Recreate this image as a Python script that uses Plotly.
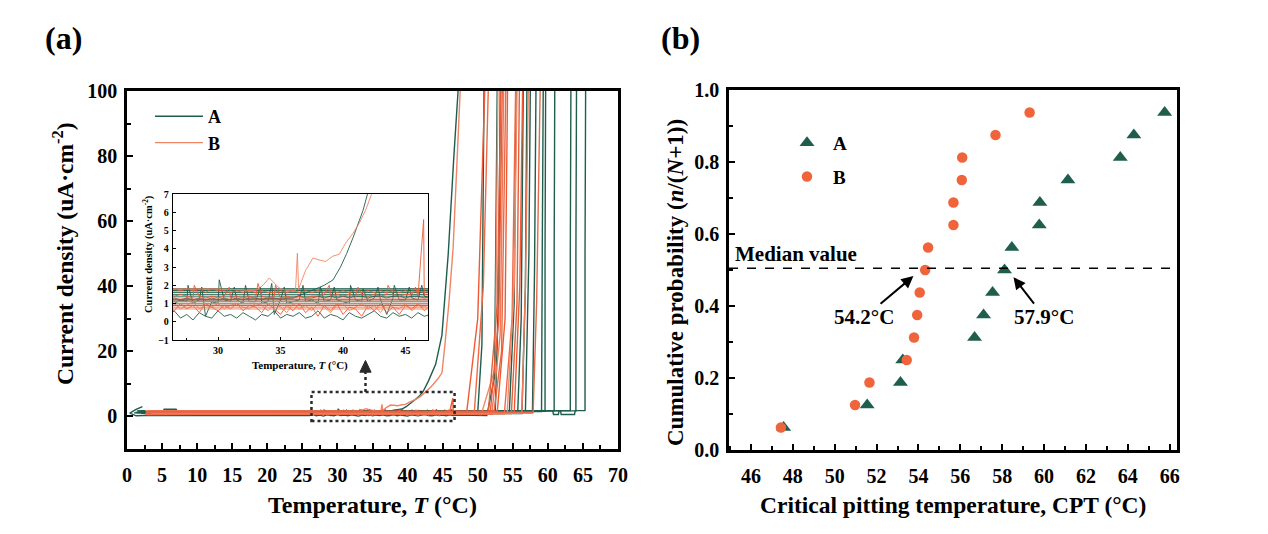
import plotly.graph_objects as go

FONT = "Liberation Serif"
W, H = 1268, 534

# ======================= panel (b) data =======================
PROB = [0.0625, 0.125, 0.1875, 0.25, 0.3125, 0.375, 0.4375, 0.5,
        0.5625, 0.625, 0.6875, 0.75, 0.8125, 0.875, 0.9375]
CPT_A = [47.56, 51.55, 53.14, 53.25, 56.68, 57.11, 57.54, 58.11,
         58.46, 59.77, 59.80, 61.14, 63.64, 64.29, 65.76]
CPT_B = [47.43, 50.97, 51.66, 53.44, 53.79, 53.94, 54.06, 54.32,
         54.46, 55.67, 55.67, 56.07, 56.09, 57.68, 59.31]
MEDIAN_Y = 0.505
MED_B_TEXT = "54.2°C"
MED_A_TEXT = "57.9°C"

# ======================= panel (a) data =======================
# noisy passive currents read in the inset (every 0.5 °C from 26 to 47 °C)
NOISE_T = [26.0, 26.5, 27.0, 27.5, 28.0, 28.5, 29.0, 29.5, 30.0, 30.5,
           31.0, 31.5, 32.0, 32.5, 33.0, 33.5, 34.0, 34.5, 35.0, 35.5,
           36.0, 36.5, 37.0, 37.5, 38.0, 38.5, 39.0, 39.5, 40.0, 40.5,
           41.0, 41.5, 42.0, 42.5, 43.0, 43.5, 44.0, 44.5, 45.0, 45.5,
           46.0, 46.5, 47.0]
NOISE_A_LOW = [0.3, 0.6, 0.2, 0.4, 0.1, 0.5, 0.3, 0.2, 0.6, 0.3,
               0.4, 0.2, 0.5, 0.3, 0.1, 0.4, 0.3, 0.6, 0.2, 0.4,
               0.3, 0.5, 0.2, 0.3, 0.6, 0.2, 0.4, 0.3, 0.1, 0.5,
               0.3, 0.2, 0.4, 0.6, 0.3, 0.2, 0.5, 0.3, 0.4, 0.2,
               0.5, 0.3, 0.4]
NOISE_A_MID = [1.1, 1.0, 1.2, 1.1, 1.0, 1.2, 0.3, 1.1, 1.0, 1.2,
               1.1, 1.2, 1.0, 1.1, 1.1, 1.0, 1.1, 0.4, 1.2, 1.0,
               1.1, 1.2, 1.1, 1.2, 1.0, 1.1, 1.2, 1.2, 1.1, 1.0,
               1.2, 1.1, 1.1, 1.3, 1.2, 0.4, 1.3, 1.2, 1.2, 1.3,
               1.2, 1.4, 1.3]
NOISE_A_HIGH = [1.2, 1.3, 1.2, 1.3, 1.2, 1.3, 1.2, 1.3, 1.2, 1.3,
                1.2, 1.3, 1.2, 1.3, 1.3, 1.2, 1.3, 1.3, 1.2, 1.3,
                1.3, 1.4, 1.3, 1.3, 1.4, 1.3, 1.4, 1.3, 1.4, 1.3,
                1.4, 1.4, 1.3, 1.4, 1.4, 1.3, 1.4, 1.4, 1.3, 1.4,
                1.4, 1.3, 1.4]
NOISE_B_DENSE1 = [0.9, 0.6, 1.0, 0.7, 0.9, 0.5, 1.0, 0.8, 0.6, 0.9,
                  0.7, 1.0, 0.6, 0.9, 0.8, 0.5, 1.0, 0.7, 0.4, 0.9,
                  0.6, 1.0, 0.5, 0.8, 0.3, 0.9, 0.6, 1.0, 0.4, 0.8,
                  0.7, 0.3, 0.9, 0.6, 1.0, 0.5, 0.8, 0.4, 0.9, 0.7,
                  1.0, 0.6, 0.9]
NOISE_B_DENSE2 = [0.8, 1.0, 0.7, 0.9, 1.1, 0.7, 0.9, 0.8, 1.0, 0.7,
                  0.9, 1.0, 0.8, 0.7, 1.0, 0.9, 0.6, 1.0, 0.8, 0.5,
                  1.0, 0.7, 0.9, 0.6, 1.0, 0.8, 0.5, 0.9, 1.0, 0.6,
                  0.8, 1.0, 0.7, 0.9, 0.5, 1.0, 0.8, 0.7, 1.0, 0.6,
                  0.9, 0.8, 1.0]
NOISE_B_LINE13 = [1.5, 1.4, 1.5, 1.4, 1.3, 1.4, 1.3, 1.4, 1.3, 1.4,
                  1.3, 1.4, 1.3, 1.4, 1.3, 1.4, 1.3, 1.4, 1.3, 1.4,
                  1.3, 1.4, 1.3, 1.4, 1.4, 1.5, 1.4, 1.5, 1.4, 1.5,
                  1.4, 1.5, 1.4, 1.5, 1.4, 1.5, 1.5, 1.4, 1.5, 1.5,
                  1.4, 1.5, 1.5]
NOISE_B_LINE16 = [1.8, 1.8, 1.7, 1.8, 1.7, 1.8, 1.6, 1.8, 1.7, 1.7,
                  1.6, 1.7, 1.6, 1.7, 1.6, 1.7, 1.6, 1.6, 1.7, 1.6,
                  1.7, 1.6, 1.7, 1.6, 1.7, 1.6, 1.7, 1.6, 1.7, 1.6,
                  1.7, 1.6, 1.7, 1.6, 1.7, 1.6, 1.7, 1.6, 1.7, 1.6,
                  1.7, 1.6, 1.7]
# isolated current spikes seen in the inset
SPIKE_A_T = [27.6, 28.7, 30.1, 31.3, 32.2, 33.4, 34.3, 35.3, 36.8,
             38.2, 39.3, 40.6, 41.6, 42.8, 44.1, 45.3, 46.3]
SPIKE_A_I = [2.0, 1.9, 2.3, 1.9, 2.0, 1.9, 2.1, 1.9, 2.0,
             1.9, 1.9, 2.0, 1.8, 1.9, 2.0, 1.9, 2.0]
SPIKE_B_T = [28.1, 30.9, 33.2, 34.6, 38.9, 41.2, 43.6, 45.8, 46.45]
SPIKE_B_I = [2.0, 1.9, 2.1, 2.0, 2.0, 1.9, 2.0, 1.9, 5.6]

# specimens A (regular curves)
A_START = [1.0, 2.4, 1.5, 2.0, 1.2, 2.5, 1.8, 3.0, 2.2, 1.6, 2.8, 2.0, 1.4, 2.6]
A_LEVEL = [1.1, 0.3, 1.3, 1.0, 1.2, 0.9, 1.4, 1.1, 1.5, 1.6, 1.7, 1.8, 1.7, 1.8]
A_ONSET = [50.0, 51.3, 52.5, 54.5, 55.7, 56.3, 56.8, 57.8, 59.1, 59.6, 60.9, 63.2, 64.0, 65.3]
A_MID_T = [50.6, 52.4, 53.0, 55.2, 56.2, 56.8, 57.3, 58.1, 59.2, 59.6, 60.9, 63.2, 64.0, 65.3]
A_MID_I = [22, 12, 40, 35, 30, 40, 50, 45, 50, 50, 50, 50, 50, 50]
A_TOP = [50.9, 52.8, 53.2, 55.5, 56.5, 57.0, 57.5, 58.3, 59.3, 59.6, 60.9, 63.2, 64.0, 65.3]
A_NOISE = ["mid", "low", "high", None, None, None, None, None, None, None, None, None, None, None]
# specimen A with early breakdown
A_EARLY_T = [1.5, 10, 20, 26, 30, 36.0, 36.8, 37.6, 38.5, 39.2, 39.8, 40.3, 40.8,
             41.1, 41.6, 42.2, 43.0, 44.0, 44.9, 45.8, 46.6, 47.2, 47.4]
A_EARLY_I = [1.2, 1.2, 1.2, 1.2, 1.2, 1.3, 1.5, 1.74, 2.0, 2.29, 3.0, 3.75, 4.6,
             5.2, 6.1, 7.6, 11, 16, 25, 50, 80, 100, 140]
A_START_HOOK_T = [2.2, 1.3, 0.4, 1.3]
A_START_HOOK_I = [3.0, 2.2, 1.0, 0.2]
A_BUMP_T = [5.0, 5.3, 7.0, 7.3]
A_BUMP_I = [1.1, 2.2, 2.2, 1.1]
A_DIP_T = [60.7, 60.8, 61.5, 61.6, 61.8, 61.9, 63.8, 63.9]
A_DIP_I = [1.8, 0.6, 0.6, 1.8, 1.8, 0.6, 0.6, 1.8]

# specimens B (regular curves)
B_START = [2.6, 3.0, 2.8, 3.2, 2.7, 3.5, 2.9, 3.1, 2.6, 3.3, 2.8, 3.0, 3.4, 2.7]
B_LEVEL = [0.8, 1.0, 0.6, 0.9, 1.4, 0.7, 1.0, 1.6, 0.8, 1.1, 0.9, 1.2, 1.0, 1.3]
B_ONSET = [48.4, 49.5, 50.5, 51.5, 51.8, 52.0, 52.3, 52.8, 53.8, 54.2, 54.8, 55.2, 56.3, 57.9]
B_MID_T = [50.0, 50.8, 52.5, 52.8, 53.0, 53.2, 53.4, 53.9, 54.9, 55.2, 55.6, 56.0, 56.8, 58.4]
B_MID_I = [30, 40, 15, 35, 30, 25, 20, 30, 30, 40, 35, 40, 40, 35]
B_TOP = [51.0, 51.5, 52.9, 53.3, 53.5, 53.7, 54.0, 54.3, 55.4, 55.6, 56.0, 56.4, 57.2, 58.9]
B_NOISE = ["dense1", None, "dense2", None, "line13", None, None, "line16", None, None, None, None, None, None]
# specimen B with early breakdown
B_EARLY_T = [2.6, 10, 20, 26, 30, 33.0, 33.6, 34.1, 34.5, 34.9, 35.5, 36.2, 36.35, 36.45,
             37.0, 37.6, 38.0, 38.6, 39.2, 39.7, 40.2, 40.8, 41.3, 41.8, 42.4, 43.3,
             44.3, 44.9, 45.3, 45.9, 46.5, 47.5, 47.7]
B_EARLY_I = [1.8, 1.8, 1.8, 1.8, 1.8, 1.7, 2.0, 2.4, 2.1, 1.85, 1.7, 1.7, 3.75, 1.8,
             2.8, 3.5, 3.4, 3.3, 3.6, 3.7, 4.3, 4.85, 5.4, 6.1, 7.2, 9.0,
             11.5, 13.4, 21.5, 35, 52, 100, 140]

NOISES = {"low": NOISE_A_LOW, "mid": NOISE_A_MID, "high": NOISE_A_HIGH,
          "dense1": NOISE_B_DENSE1, "dense2": NOISE_B_DENSE2,
          "line13": NOISE_B_LINE13, "line16": NOISE_B_LINE16}

A_COLOR = "#1f5d4c"
B_COLORS = ["#ef5a34", "#ee6a46", "#f08a6c", "#e2603c", "#ef5a34", "#f07a58", "#e66a4a"]
A_MARK = "#1f5d4c"
B_MARK = "#f0643c"


def build_curve(start, level, onset, mid_t, mid_i, top, noise=None, extras=(), hook=None):
    body = [(start, level), (10.0, level), (20.0, level)]
    if noise is None:
        body += [(26.0, level), (47.0, level)]
    else:
        body += list(zip(NOISE_T, NOISES[noise]))
    for ex_t, ex_i in extras:
        body += list(zip(ex_t, ex_i))
    body = sorted(p for p in body if p[0] < onset)
    pts = []
    if hook is not None:
        pts += list(zip(*hook))
    pts += body
    pts += [(onset, level), (mid_t, mid_i), (top, 100.0), (top + 0.15, 140.0)]
    return [p[0] for p in pts], [p[1] for p in pts]


curves = []  # (T, I, color, group)
curves.append((A_EARLY_T, A_EARLY_I, A_COLOR, "A"))
for k in range(len(A_START)):
    extras = []
    hook = None
    if k == 0:
        extras = [(SPIKE_A_T, SPIKE_A_I), (A_BUMP_T, A_BUMP_I)]
    if k == 1:
        hook = (A_START_HOOK_T, A_START_HOOK_I)
    if k == len(A_START) - 1:
        extras = [(A_DIP_T, A_DIP_I)]
    t, i = build_curve(A_START[k], A_LEVEL[k], A_ONSET[k], A_MID_T[k], A_MID_I[k], A_TOP[k],
                       A_NOISE[k], extras, hook)
    curves.append((t, i, A_COLOR, "A"))
curves.append((B_EARLY_T, B_EARLY_I, "#f08565", "B"))
for k in range(len(B_START)):
    extras = []
    if k == 4:
        extras = [(SPIKE_B_T, SPIKE_B_I)]
    t, i = build_curve(B_START[k], B_LEVEL[k], B_ONSET[k], B_MID_T[k], B_MID_I[k], B_TOP[k],
                       B_NOISE[k], extras)
    curves.append((t, i, B_COLORS[k % len(B_COLORS)], "B"))

fig = go.Figure()
shown = set()
for t, i, col, grp in curves:
    show = grp not in shown
    shown.add(grp)
    fig.add_trace(go.Scatter(x=t, y=i, mode="lines", line=dict(color=col, width=1.4),
                             name=grp, legendgroup="main" + grp, showlegend=show, legend="legend",
                             xaxis="x", yaxis="y", hoverinfo="skip"))
for t, i, col, grp in curves:
    fig.add_trace(go.Scatter(x=t, y=i, mode="lines", line=dict(color=col, width=0.9),
                             showlegend=False, xaxis="x3", yaxis="y3", hoverinfo="skip"))

# panel (b) markers
fig.add_trace(go.Scatter(x=CPT_A, y=PROB, mode="markers", name="A", legend="legend2",
                         legendgroup="pa",
                         marker=dict(symbol="triangle-up", size=13, color=A_MARK),
                         xaxis="x2", yaxis="y2"))
fig.add_trace(go.Scatter(x=CPT_B, y=PROB, mode="markers", name="B", legend="legend2",
                         legendgroup="pb",
                         marker=dict(symbol="circle", size=10.5, color=B_MARK),
                         xaxis="x2", yaxis="y2"))


def ax_style(**kw):
    d = dict(showline=True, linecolor="black", linewidth=2.5, mirror=True,
             ticks="inside", ticklen=6, tickwidth=2, tickcolor="black",
             showgrid=False, zeroline=False, automargin=False,
             tickfont=dict(family=FONT, size=20, color="black", weight="bold"))
    d.update(kw)
    return d


minor_a_x = dict(dtick=2.5, ticks="inside", ticklen=4, tickwidth=1.5, tickcolor="black", showgrid=False)
minor_a_y = dict(dtick=10, ticks="inside", ticklen=4, tickwidth=1.5, tickcolor="black", showgrid=False)
minor_b_x = dict(dtick=1, ticks="inside", ticklen=4, tickwidth=1.5, tickcolor="black", showgrid=False)
minor_b_y = dict(dtick=0.1, ticks="inside", ticklen=4, tickwidth=1.5, tickcolor="black", showgrid=False)
inset_font = dict(family=FONT, size=10, color="black", weight="bold")

fig.update_layout(
    template="none",
    width=W, height=H, margin=dict(l=0, r=0, t=0, b=0, pad=0, autoexpand=False),
    paper_bgcolor="white", plot_bgcolor="white",
    xaxis=ax_style(domain=[127 / W, 618 / W], range=[0, 70], tick0=0, dtick=5,
                   anchor="y", minor=minor_a_x, ticklabelstandoff=6),
    yaxis=ax_style(domain=[1 - 449 / H, 1 - 91 / H], range=[-10, 100], tick0=0, dtick=20,
                   anchor="x", minor=minor_a_y, ticklabelstandoff=3),
    xaxis2=ax_style(domain=[729 / W, 1177 / W], range=[44.95, 66.35], tick0=46, dtick=2,
                    anchor="y2", minor=minor_b_x, ticklabelstandoff=6),
    yaxis2=ax_style(domain=[1 - 450 / H, 1 - 90 / H], range=[0, 1.0], tick0=0, dtick=0.2,
                    tickformat=".1f", anchor="x2", minor=minor_b_y, ticklabelstandoff=3),
    xaxis3=ax_style(domain=[173 / W, 428 / W], range=[26.4, 46.8], tick0=30, dtick=5,
                    anchor="y3", linewidth=1.3, ticklen=3, tickwidth=1, tickfont=inset_font,
                    minor=dict(dtick=2.5, ticks="inside", ticklen=2, tickwidth=1, tickcolor="black"),
                    ticklabelstandoff=1),
    yaxis3=ax_style(domain=[1 - 340 / H, 1 - 194 / H], range=[-1, 7], tick0=-1, dtick=1,
                    anchor="x3", linewidth=1.3, ticklen=3, tickwidth=1, tickfont=inset_font,
                    ticklabelstandoff=1),
    legend=dict(x=150 / W, y=1 - 98 / H, xanchor="left", yanchor="top",
                bgcolor="rgba(0,0,0,0)", tracegroupgap=0, itemwidth=48,
                font=dict(family=FONT, size=18, color="black", weight="bold")),
    legend2=dict(x=781 / W, y=1 - 124 / H, xanchor="left", yanchor="top",
                 bgcolor="rgba(0,0,0,0)", tracegroupgap=6, itemwidth=42,
                 font=dict(family=FONT, size=19, color="black", weight="bold")),
)

# dotted zoom box and arrow on panel (a)
fig.add_shape(type="rect", xref="x", yref="y", x0=26.3, x1=46.7, y0=-1.4, y1=7.5,
              line=dict(color="#2a2a2a", width=2.5, dash="dot"))
fig.add_shape(type="line", xref="x", yref="y", x0=34.0, x1=34.0, y0=7.5, y1=13.8,
              line=dict(color="#2a2a2a", width=2.5, dash="dot"))
fig.add_shape(type="path", xref="x", yref="y", path="M 33.2,13.6 L 34.8,13.6 L 34.0,17.2 Z",
              fillcolor="#2a2a2a", line=dict(color="#2a2a2a", width=1))

# median line panel (b)
fig.add_shape(type="line", xref="x2 domain", yref="y2", x0=0, x1=1, y0=MEDIAN_Y, y1=MEDIAN_Y,
              line=dict(color="black", width=1.5, dash="dash"))


def txt(text, x, y, size, angle=0, xanchor="center", yanchor="middle", xref="paper", yref="paper"):
    fig.add_annotation(text=text, x=x, y=y, xref=xref, yref=yref, showarrow=False,
                       textangle=angle, xanchor=xanchor, yanchor=yanchor,
                       font=dict(family=FONT, size=size, color="black", weight="bold"))


txt("(a)", 63 / W, 1 - 38 / H, 32)
txt("(b)", 680 / W, 1 - 38 / H, 32)
txt("Temperature, <i>T</i> (°C)", 372.5 / W, 1 - 505 / H, 24)
txt("Current density (uA·cm<sup>-2</sup>)", 63 / W, 1 - 254 / H, 23.5, angle=-90)
txt("Critical pitting temperature, CPT (°C)", 953 / W, 1 - 505 / H, 23.5)
txt("Cumulative probability (<i>n</i>/(<i>N</i>+1))", 675 / W, 1 - 283 / H, 23, angle=-90)
txt("Temperature, <i>T</i> (°C)", 300 / W, 1 - 365 / H, 11)
txt("Current density (uA·cm<sup>-2</sup>)", 148 / W, 1 - 254 / H, 10.5, angle=-90)
txt("Median value", 733 / W, MEDIAN_Y, 21, xanchor="left", yanchor="bottom", yref="y2")

# median labels with arrows pointing at the median crossing
for label, hx, hy, tx, ty in [(MED_B_TEXT, 53.76, 0.483, 51.42, 0.369),
                              (MED_A_TEXT, 58.54, 0.480, 60.02, 0.369)]:
    fig.add_annotation(text=label, x=hx, y=hy, ax=tx, ay=ty, xref="x2", yref="y2",
                       axref="x2", ayref="y2", showarrow=True, arrowhead=2, arrowsize=1.2,
                       arrowwidth=2, arrowcolor="black",
                       font=dict(family=FONT, size=21, color="black", weight="bold"))

fig.write_html("out.html")
